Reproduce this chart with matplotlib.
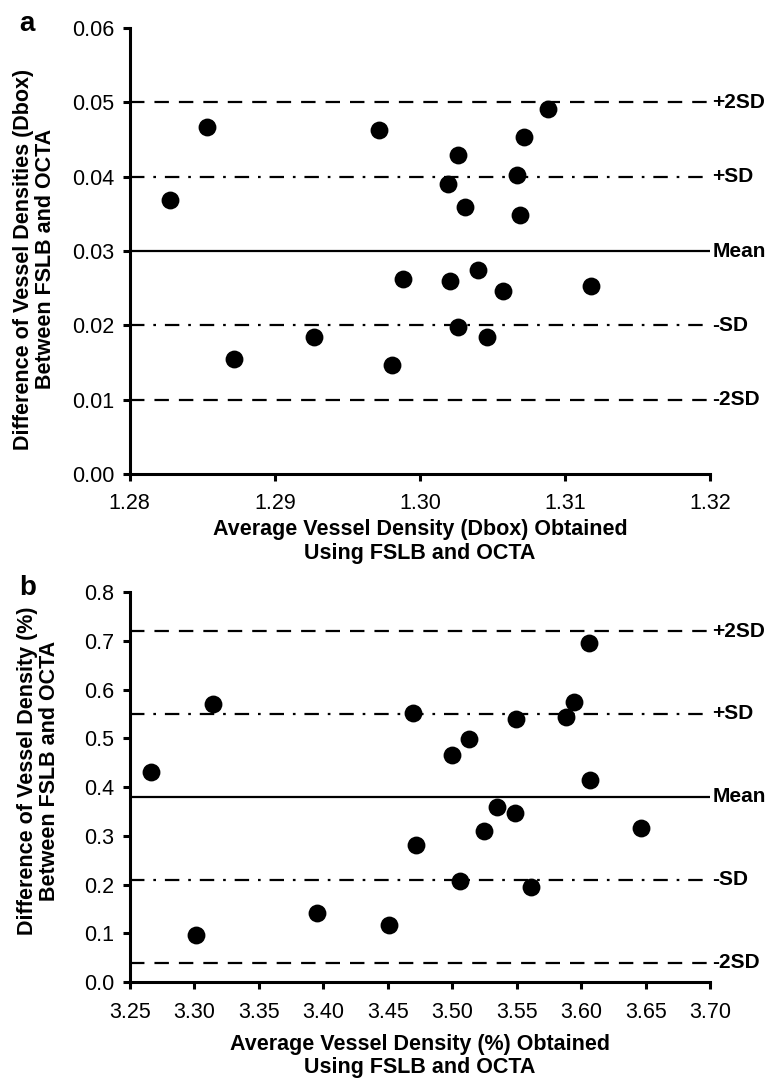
import numpy as np
import matplotlib
matplotlib.use('Agg')
import matplotlib.pyplot as plt

plt.rcParams['font.family'] = ['Liberation Sans', 'DejaVu Sans']

# panel a: Dbox
a_avg = [1.2828, 1.2853, 1.2872, 1.2927, 1.2972, 1.2981, 1.2988, 1.3019, 1.3021, 1.3026,
         1.3026, 1.3031, 1.3040, 1.3046, 1.3057, 1.3067, 1.3069, 1.3072, 1.3088, 1.3118]
a_diff = [0.0369, 0.0467, 0.0155, 0.0184, 0.0463, 0.0146, 0.0263, 0.0390, 0.0259, 0.0429,
          0.0198, 0.0359, 0.0274, 0.0184, 0.0246, 0.0402, 0.0348, 0.0453, 0.0491, 0.0253]
a_lines = [0.05, 0.04, 0.03, 0.02, 0.01]

# panel b: vessel density (%)
b_avg = [3.2664, 3.3012, 3.3142, 3.3948, 3.4513, 3.4693, 3.4716, 3.4998, 3.5063, 3.5128,
         3.5243, 3.5346, 3.5483, 3.5495, 3.5613, 3.5885, 3.5942, 3.6057, 3.6068, 3.6461]
b_diff = [0.430, 0.097, 0.570, 0.142, 0.118, 0.552, 0.282, 0.465, 0.208, 0.498,
          0.310, 0.360, 0.347, 0.540, 0.194, 0.544, 0.575, 0.695, 0.415, 0.317]
b_lines = [0.72, 0.55, 0.38, 0.21, 0.04]

line_names = ['+2SD', '+SD', 'Mean', '-SD', '-2SD']
line_styles = [(0, (6.5, 4.5)), (0, (6.5, 4, 1.2, 4)), '-', (0, (6.5, 4, 1.2, 4)), (0, (6.5, 4.5))]

fig = plt.figure(figsize=(7.72, 10.78), dpi=100)
ax1 = fig.add_axes([0.168, 0.5603, 0.752, 0.4137])
ax2 = fig.add_axes([0.168, 0.0890, 0.752, 0.3618])


def draw(ax, x, y, levels, xlim, ylim, xticks, yticks, xfmt, yfmt, xlab, ylab, tag,
         xlab_y, ylab_xy):
    for lv, st, nm in zip(levels, line_styles, line_names):
        ax.plot(xlim, [lv, lv], color='black', lw=1.6, linestyle=st, zorder=2)
        ax.text(1.004, lv, nm, transform=ax.get_yaxis_transform(), ha='left', va='center',
                fontsize=15, fontweight='bold', clip_on=False)
    ax.scatter(x, y, s=165, color='black', zorder=3, linewidths=0)
    ax.set_xlim(xlim)
    ax.set_ylim(ylim)
    ax.set_xticks(xticks)
    ax.set_yticks(yticks)
    ax.set_xticklabels([xfmt % v for v in xticks])
    ax.set_yticklabels([yfmt % v for v in yticks])
    for s in ['top', 'right']:
        ax.spines[s].set_visible(False)
    for s in ['left', 'bottom']:
        ax.spines[s].set_linewidth(2.2)
    ax.tick_params(direction='out', length=5, width=2.2, labelsize=15.5)
    ax.tick_params(axis='x', pad=9)
    ax.tick_params(axis='y', pad=6)
    ax.set_xlabel(xlab, fontsize=15.5, fontweight='bold', linespacing=1.15, va='center')
    ax.xaxis.set_label_coords(0.5, xlab_y)
    ax.set_ylabel(ylab, fontsize=15.5, fontweight='bold', linespacing=1.1, va='center')
    ax.yaxis.set_label_coords(*ylab_xy)
    ax.text(-0.19, 1.01, tag, transform=ax.transAxes, fontsize=20, fontweight='bold',
            ha='left', va='center')


draw(ax1, a_avg, a_diff, a_lines, (1.28, 1.32), (0.0, 0.06),
     np.arange(1.28, 1.3201, 0.01), np.arange(0, 0.0601, 0.01), '%.2f', '%.2f',
     'Average Vessel Density (Dbox) Obtained\nUsing FSLB and OCTA',
     'Difference of Vessel Densities (Dbox)\nBetween FSLB and OCTA', 'a',
     -0.151, (-0.164, 0.482))
draw(ax2, b_avg, b_diff, b_lines, (3.25, 3.70), (0.0, 0.8),
     np.arange(3.25, 3.7001, 0.05), np.arange(0, 0.801, 0.1), '%.2f', '%.1f',
     'Average Vessel Density (%) Obtained\nUsing FSLB and OCTA',
     'Difference of Vessel Density (%)\nBetween FSLB and OCTA', 'b',
     -0.189, (-0.157, 0.541))

fig.savefig('out.png', dpi=100)
